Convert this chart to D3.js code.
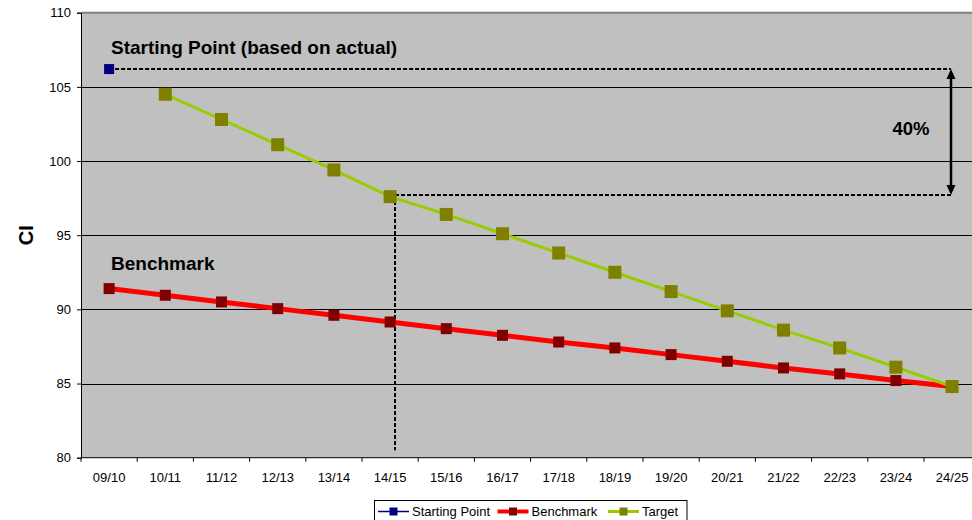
<!DOCTYPE html>
<html>
<head>
<meta charset="utf-8">
<script src="https://cdn.jsdelivr.net/npm/d3@7"></script>
<style>
  html, body { margin: 0; padding: 0; background: #fff; }
  svg { display: block; font-family: "Liberation Sans", Arial, sans-serif; }
</style>
</head>
<body>
<svg id="chart" width="972" height="520"></svg>
<script>
// Financial years on the category axis
const years = ["09/10","10/11","11/12","12/13","13/14","14/15","15/16","16/17",
               "17/18","18/19","19/20","20/21","21/22","22/23","23/24","24/25"];

// Series values (CI)
const startingPoint = [106.2, null, null, null, null, null, null, null,
                       null, null, null, null, null, null, null, null];
const benchmark = [91.4, 90.95, 90.5, 90.05, 89.6, 89.15, 88.7, 88.25,
                   87.8, 87.4, 86.95, 86.5, 86.05, 85.65, 85.2, 84.8];
const target = [null, 104.5, 102.8, 101.1, 99.4, 97.6, 96.4, 95.1,
                93.8, 92.5, 91.2, 89.9, 88.6, 87.4, 86.1, 84.8];

const yTicks = [80, 85, 90, 95, 100, 105, 110];

const svg = d3.select("#chart");
const plotL = 81, plotT = 12.7, plotB = 457.7, plotR = 980.2;

const x = d3.scaleBand().domain(years).range([plotL, plotR]).padding(0);
const cx = d => x(d) + x.bandwidth() / 2;
const y = d3.scaleLinear().domain([80, 110]).range([plotB, plotT]);

// Plot area
svg.append("rect")
  .attr("x", plotL).attr("y", plotT)
  .attr("width", plotR - plotL).attr("height", plotB - plotT)
  .attr("fill", "#c0c0c0");

// Horizontal gridlines
svg.append("g").selectAll("line")
  .data(yTicks.filter(v => v > 80 && v < 110))
  .join("line")
  .attr("x1", plotL).attr("x2", plotR)
  .attr("y1", d => Math.round(y(d)) + 0.5).attr("y2", d => Math.round(y(d)) + 0.5)
  .attr("stroke", "#000").attr("stroke-width", 1);

// Plot border at the top
svg.append("line")
  .attr("x1", plotL).attr("x2", plotR).attr("y1", plotT).attr("y2", plotT)
  .attr("stroke", "#808080").attr("stroke-width", 2);

// Y axis
const yAxis = svg.append("g")
  .attr("transform", `translate(${plotL},0)`)
  .call(d3.axisLeft(y).tickValues(yTicks).tickSize(4).tickPadding(6).tickFormat(d3.format("d")));
yAxis.select(".domain").attr("stroke", "#000");
yAxis.selectAll("text").attr("font-size", 13).attr("fill", "#000")
  .attr("font-family", "Liberation Sans, Arial, sans-serif");
yAxis.selectAll(".tick line").attr("stroke", "#000");

// X axis: labels centred in categories, ticks on category boundaries
const xAxis = svg.append("g")
  .attr("transform", `translate(0,${plotB})`)
  .call(d3.axisBottom(x).tickSize(0).tickPadding(15));
xAxis.select(".domain").remove();
xAxis.selectAll("text").attr("font-size", 13).attr("fill", "#000")
  .attr("font-family", "Liberation Sans, Arial, sans-serif");
svg.append("line")
  .attr("x1", plotL).attr("x2", plotR).attr("y1", plotB).attr("y2", plotB)
  .attr("stroke", "#000").attr("stroke-width", 1);
svg.append("g").selectAll("line")
  .data(d3.range(years.length + 1))
  .join("line")
  .attr("x1", i => plotL + i * x.step()).attr("x2", i => plotL + i * x.step())
  .attr("y1", plotB).attr("y2", plotB + 4)
  .attr("stroke", "#000");

// Y axis title
svg.append("text")
  .attr("transform", `translate(33,${(plotT + plotB) / 2}) rotate(-90)`)
  .attr("text-anchor", "middle")
  .attr("font-size", 20).attr("font-weight", "bold")
  .text("CI");

// Annotation: reduction from starting point to the 14/15 target
const arrowX = Math.round(cx("24/25") - 1);
const yStart = Math.round(y(startingPoint[0]));
const i1415 = years.indexOf("14/15");
const yMid = Math.round(y(target[i1415]) - 1.5);
const xMid = Math.round(cx("14/15") + 5);
const dash = "4,2";
const ann = svg.append("g").attr("stroke", "#000").attr("stroke-width", 2).attr("fill", "none");
ann.append("line").attr("x1", cx("09/10") + 6).attr("x2", arrowX)
  .attr("y1", yStart).attr("y2", yStart).attr("stroke-dasharray", dash);
ann.append("line").attr("x1", xMid).attr("x2", arrowX)
  .attr("y1", yMid).attr("y2", yMid).attr("stroke-dasharray", dash);
ann.append("line").attr("x1", xMid).attr("x2", xMid)
  .attr("y1", yMid).attr("y2", y(80.5)).attr("stroke-dasharray", dash);

// Double-headed arrow
ann.append("line").attr("x1", arrowX).attr("x2", arrowX)
  .attr("y1", yStart + 8).attr("y2", yMid - 8).attr("stroke-width", 2.5);
svg.append("path")
  .attr("d", `M${arrowX},${yStart} L${arrowX - 4.5},${yStart + 10} L${arrowX + 4.5},${yStart + 10} Z`)
  .attr("fill", "#000");
svg.append("path")
  .attr("d", `M${arrowX},${yMid} L${arrowX - 4.5},${yMid - 10} L${arrowX + 4.5},${yMid - 10} Z`)
  .attr("fill", "#000");

svg.append("text")
  .attr("x", 911).attr("y", 135)
  .attr("text-anchor", "middle")
  .attr("font-size", 18.5).attr("font-weight", "bold")
  .text("40%");

// Series lines
const line = d3.line()
  .defined(d => d.v != null)
  .x(d => cx(d.k)).y(d => y(d.v));
const rows = arr => years.map((k, i) => ({ k, v: arr[i] }));

svg.append("path").datum(rows(benchmark))
  .attr("d", line).attr("fill", "none")
  .attr("stroke", "#ff0000").attr("stroke-width", 5);
svg.append("g").selectAll("rect")
  .data(rows(benchmark).filter(d => d.v != null))
  .join("rect")
  .attr("x", d => cx(d.k) - 5.5).attr("y", d => y(d.v) - 5.5)
  .attr("width", 11).attr("height", 11)
  .attr("fill", "#800000");

svg.append("path").datum(rows(target))
  .attr("d", line).attr("fill", "none")
  .attr("stroke", "#99cc00").attr("stroke-width", 3);
svg.append("g").selectAll("rect")
  .data(rows(target).filter(d => d.v != null))
  .join("rect")
  .attr("x", d => cx(d.k) - 6.5).attr("y", d => y(d.v) - 6.5)
  .attr("width", 13).attr("height", 13)
  .attr("fill", "#808000");

svg.append("g").selectAll("rect")
  .data(rows(startingPoint).filter(d => d.v != null))
  .join("rect")
  .attr("x", d => cx(d.k) - 5).attr("y", d => y(d.v) - 5)
  .attr("width", 10).attr("height", 10)
  .attr("fill", "#000080");

// Series callouts
svg.append("text").attr("x", 111).attr("y", 54)
  .attr("font-size", 19).attr("font-weight", "bold")
  .text("Starting Point (based on actual)");
svg.append("text").attr("x", 111).attr("y", 270)
  .attr("font-size", 19).attr("font-weight", "bold")
  .text("Benchmark");

// Legend
const legendItems = [
  { name: "Starting Point", line: "#000080", lw: 1.5, mark: "#000080", x: 378 },
  { name: "Benchmark", line: "#ff0000", lw: 4, mark: "#800000", x: 497.5 },
  { name: "Target", line: "#99cc00", lw: 3, mark: "#808000", x: 608 }
];
const lg = svg.append("g");
lg.append("rect")
  .attr("x", 374.5).attr("y", 500.5).attr("width", 312.5).attr("height", 26)
  .attr("fill", "#fff").attr("stroke", "#000").attr("stroke-width", 1);
const ly = 511.5;
const li = lg.selectAll("g.item").data(legendItems).join("g").attr("class", "item");
li.append("line")
  .attr("x1", d => d.x).attr("x2", d => d.x + 31)
  .attr("y1", ly).attr("y2", ly)
  .attr("stroke", d => d.line).attr("stroke-width", d => d.lw);
li.append("rect")
  .attr("x", d => d.x + 15.5 - 4).attr("y", ly - 4)
  .attr("width", 8).attr("height", 8)
  .attr("fill", d => d.mark);
li.append("text")
  .attr("x", d => d.x + 34).attr("y", ly + 4.5)
  .attr("font-size", 13)
  .text(d => d.name);
</script>
</body>
</html>
